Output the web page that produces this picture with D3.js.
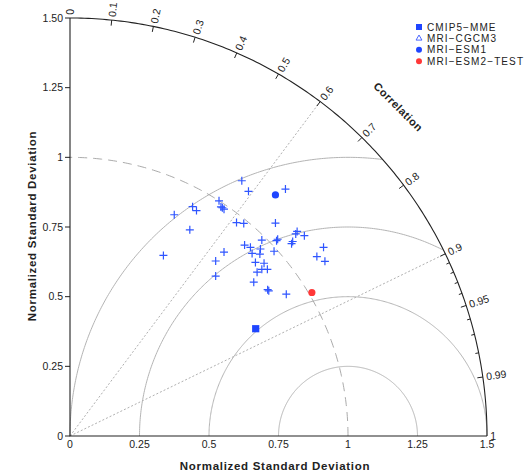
<!DOCTYPE html>
<html>
<head>
<meta charset="utf-8">
<script src="https://cdn.jsdelivr.net/npm/d3@7"></script>
<style>
body { margin: 0; background: #fff; }
text { font-family: "Liberation Sans", Arial, sans-serif; fill: #222; }
</style>
</head>
<body>
<svg id="chart" width="531" height="473"></svg>
<script>
// individual models (blue crosses), position on the diagram in normalized std units
var modelX = [0.618, 0.642, 0.775, 0.441, 0.455, 0.375, 0.536, 0.543, 0.548, 0.554, 0.431,
	0.599, 0.625, 0.739, 0.817, 0.812, 0.843, 0.690, 0.747, 0.743, 0.801, 0.797, 0.912,
	0.628, 0.649, 0.685, 0.734, 0.554, 0.655, 0.683, 0.336, 0.888, 0.917, 0.524, 0.667,
	0.698, 0.690, 0.710, 0.673, 0.524, 0.661, 0.711, 0.715, 0.778];
var modelY = [0.916, 0.878, 0.886, 0.823, 0.809, 0.794, 0.844, 0.822, 0.819, 0.814, 0.740,
	0.766, 0.763, 0.764, 0.734, 0.725, 0.719, 0.703, 0.706, 0.701, 0.698, 0.690, 0.677,
	0.685, 0.677, 0.671, 0.663, 0.660, 0.655, 0.653, 0.648, 0.644, 0.627, 0.628, 0.623,
	0.620, 0.598, 0.598, 0.588, 0.574, 0.552, 0.525, 0.521, 0.509];

var seriesNames = ["CMIP5\u2212MME", "MRI\u2212CGCM3", "MRI\u2212ESM1", "MRI\u2212ESM2\u2212TEST"];
var seriesX = [0.668, 0.739, 0.739, 0.870];
var seriesY = [0.385, 0.865, 0.865, 0.515];
var seriesShapes = ["square", "triangle", "circle", "circle"];
var seriesColors = ["#1f45ff", "#4a66ff", "#1f45ff", "#ff3838"];

var stdTicks = [0, 0.25, 0.5, 0.75, 1, 1.25, 1.5];
var xTickLabels = ["0", "0.25", "0.5", "0.75", "1", "1.25", "1.5"];
var yTickLabels = ["0", "0.25", "0.5", "0.75", "1", "1.25", "1.50"];
var corrLabels = [0, 0.1, 0.2, 0.3, 0.4, 0.5, 0.6, 0.7, 0.8, 0.9, 0.95, 0.99, 1];
var corrMinor = [0.91, 0.92, 0.93, 0.94, 0.96, 0.97, 0.98];
var corrLines = [0.6, 0.9];
var rmsRadii = [0.25, 0.5, 0.75, 1];
var refStd = 1;
var maxStd = 1.5;

var svg = d3.select("#chart");

var x = d3.scaleLinear().domain([0, maxStd]).range([70, 487]);
var y = d3.scaleLinear().domain([0, maxStd]).range([436, 18]);

var line = d3.line()
	.x(function(d) { return x(d[0]); })
	.y(function(d) { return y(d[1]); });

function arcPoints(cx, r, keep) {
	var pts = [];
	for (var i = 0; i <= 360; i++) {
		var a = Math.PI * i / 360,
			px = cx + r * Math.cos(a),
			py = r * Math.sin(a);
		if (!keep || keep(px, py)) pts.push([px, py]);
	}
	return pts;
}

// rms circles around the reference point
rmsRadii.forEach(function(r) {
	var pts = arcPoints(refStd, r, function(px, py) {
		return px >= 0 && px * px + py * py <= maxStd * maxStd + 1e-9;
	});
	svg.append("path")
		.attr("d", line(pts))
		.attr("fill", "none")
		.attr("stroke", "#b4b4b4")
		.attr("stroke-width", 1);
});

// reference std (dashed)
svg.append("path")
	.attr("d", line(arcPoints(0, refStd).filter(function(p) { return p[0] >= -1e-9; })))
	.attr("fill", "none")
	.attr("stroke", "#ababab")
	.attr("stroke-width", 1)
	.attr("stroke-dasharray", "9,6");

// correlation rays
corrLines.forEach(function(c) {
	var a = Math.acos(c);
	svg.append("path")
		.attr("d", line([[0, 0], [maxStd * Math.cos(a), maxStd * Math.sin(a)]]))
		.attr("stroke", "#b0b0b0")
		.attr("stroke-width", 1)
		.attr("stroke-dasharray", "2,2");
});

// outer arc and axes
svg.append("path")
	.attr("d", line(arcPoints(0, maxStd).filter(function(p) { return p[0] >= -1e-9; })))
	.attr("fill", "none")
	.attr("stroke", "#222")
	.attr("stroke-width", 1.1);

svg.append("path")
	.attr("d", line([[0, maxStd], [0, 0], [maxStd, 0]]))
	.attr("fill", "none")
	.attr("stroke", "#222")
	.attr("stroke-width", 1.1);

// std ticks
svg.selectAll(".ytick").data(stdTicks).enter().append("line")
	.attr("x1", x(0) - 5).attr("x2", x(0))
	.attr("y1", function(d) { return y(d); }).attr("y2", function(d) { return y(d); })
	.attr("stroke", "#222");

svg.selectAll(".ylab").data(stdTicks).enter().append("text")
	.attr("x", x(0) - 7)
	.attr("y", function(d) { return y(d); })
	.attr("dy", "0.35em")
	.attr("text-anchor", "end")
	.attr("font-size", 10.5)
	.text(function(d, i) { return yTickLabels[i]; });

svg.selectAll(".xlab").data(stdTicks).enter().append("text")
	.attr("x", function(d) { return x(d); })
	.attr("y", y(0) + 12)
	.attr("text-anchor", "middle")
	.attr("font-size", 10.5)
	.text(function(d, i) { return xTickLabels[i]; });

// correlation ticks and labels
function corrTick(c, len) {
	var a = Math.acos(c);
	return line([[maxStd * Math.cos(a), maxStd * Math.sin(a)],
		[(maxStd - len) * Math.cos(a), (maxStd - len) * Math.sin(a)]]);
}

svg.selectAll(".ctick").data(corrLabels.slice(1, 12)).enter().append("path")
	.attr("d", function(d) { return corrTick(d, 0.02); })
	.attr("stroke", "#222");

svg.selectAll(".cminor").data(corrMinor).enter().append("path")
	.attr("d", function(d) { return corrTick(d, 0.012); })
	.attr("stroke", "#222");

svg.selectAll(".clab").data(corrLabels).enter().append("text")
	.attr("transform", function(d) {
		var a = Math.acos(d),
			r = maxStd + 0.012;
		return "translate(" + x(r * Math.cos(a)) + "," + y(r * Math.sin(a)) + ") rotate(" + (-a * 180 / Math.PI) + ")";
	})
	.attr("dy", "0.35em")
	.attr("font-size", 10.5)
	.text(function(d) { return d; });

var ta = Math.PI / 4, tr = 1.67;
svg.append("text")
	.attr("transform", "translate(" + x(tr * Math.cos(ta)) + "," + y(tr * Math.sin(ta)) + ") rotate(45)")
	.attr("text-anchor", "middle")
	.attr("dy", "0.35em")
	.attr("font-size", 11)
	.attr("font-weight", "bold")
	.attr("letter-spacing", 0.5)
	.text("Correlation");

// axis titles
svg.append("text")
	.attr("x", 275)
	.attr("y", 470)
	.attr("text-anchor", "middle")
	.attr("font-size", 11.5)
	.attr("font-weight", "bold")
	.attr("letter-spacing", 0.7)
	.text("Normalized Standard Deviation");

svg.append("text")
	.attr("transform", "translate(36,226) rotate(-90)")
	.attr("text-anchor", "middle")
	.attr("font-size", 11.5)
	.attr("font-weight", "bold")
	.attr("letter-spacing", 0.7)
	.text("Normalized Standard Deviation");

// markers
var cross = "M-4,0H4M0,-4V4";
svg.selectAll(".model").data(modelX).enter().append("path")
	.attr("transform", function(d, i) { return "translate(" + x(d) + "," + y(modelY[i]) + ")"; })
	.attr("d", cross)
	.attr("stroke", "#2f55ff")
	.attr("stroke-width", 1.2)
	.attr("fill", "none");

function drawShape(g, shape, color, size) {
	if (shape === "square") {
		g.append("rect").attr("x", -size).attr("y", -size)
			.attr("width", size * 2).attr("height", size * 2).attr("fill", color);
	} else if (shape === "triangle") {
		g.append("path").attr("d", d3.symbol().type(d3.symbolTriangle).size(size * size * 2.2)())
			.attr("fill", "none").attr("stroke", color).attr("stroke-width", 1);
	} else {
		g.append("circle").attr("r", size).attr("fill", color);
	}
}

seriesX.forEach(function(d, i) {
	var g = svg.append("g").attr("transform", "translate(" + x(d) + "," + y(seriesY[i]) + ")");
	drawShape(g, seriesShapes[i], seriesColors[i], seriesShapes[i] === "triangle" ? 2 : 3.6);
});

// legend
var legend = svg.append("g").attr("transform", "translate(419,27)");
seriesNames.forEach(function(name, i) {
	var g = legend.append("g").attr("transform", "translate(0," + (i * 11.4) + ")");
	drawShape(g, seriesShapes[i], seriesColors[i], i === 1 ? 2.6 : 3);
	g.append("text")
		.attr("x", 8)
		.attr("dy", "0.36em")
		.attr("font-size", 10)
		.attr("letter-spacing", 1.1)
		.text(name);
});
</script>
</body>
</html>
